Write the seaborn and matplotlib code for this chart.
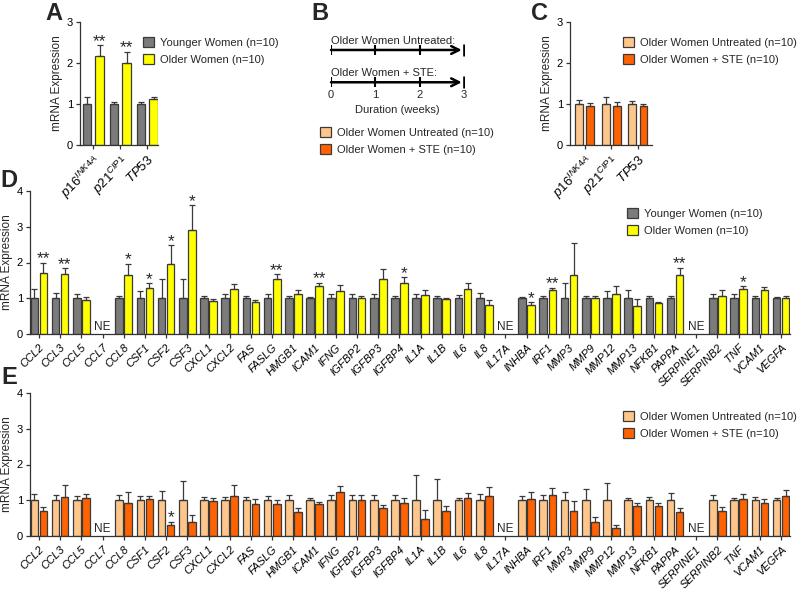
import numpy as np
import pandas as pd
import seaborn as sns
import matplotlib.pyplot as plt
from matplotlib.patches import Patch

nan = np.nan

# ---- panels A and C: senescence markers ----
sen_genes = [r'$\mathit{p16}^{\mathit{INK4A}}$', r'$\mathit{p21}^{\mathit{CIP1}}$', r'$\mathit{TP53}$']
a_young = [1.0, 1.0, 1.0]
a_young_err = [0.16, 0.06, 0.06]
a_old = [2.18, 2.01, 1.12]
a_old_err = [0.25, 0.26, 0.04]
a_sig = ['**', '**', '']

c_untr = [1.0, 1.0, 1.0]
c_untr_err = [0.10, 0.18, 0.08]
c_ste = [0.94, 0.96, 0.95]
c_ste_err = [0.08, 0.10, 0.06]
c_sig = ['', '', '']

# ---- panels D and E: SASP genes (nan = not expressed) ----
genes = ['CCL2', 'CCL3', 'CCL5', 'CCL7', 'CCL8', 'CSF1', 'CSF2', 'CSF3', 'CXCL1', 'CXCL2',
         'FAS', 'FASLG', 'HMGB1', 'ICAM1', 'IFNG', 'IGFBP2', 'IGFBP3', 'IGFBP4', 'IL1A', 'IL1B',
         'IL6', 'IL8', 'IL17A', 'INHBA', 'IRF1', 'MMP3', 'MMP9', 'MMP12', 'MMP13', 'NFKB1',
         'PAPPA', 'SERPINE1', 'SERPINB2', 'TNF', 'VCAM1', 'VEGFA']

d_young = [1, 1, 1, nan, 1, 1, 1, 1, 1, 1, 1, 1, 1, 1, 1, 1, 1, 1, 1, 1,
           1, 1, nan, 1, 1, 1, 1, 1, 1, 1, 1, nan, 1, 1, 1, 1]
d_young_err = [0.27, 0.14, 0.12, nan, 0.07, 0.20, 0.55, 0.54, 0.07, 0.11,
               0.07, 0.11, 0.05, 0.04, 0.11, 0.11, 0.12, 0.07, 0.11, 0.06,
               0.08, 0.14, nan, 0.04, 0.05, 0.44, 0.05, 0.20, 0.22, 0.05,
               0.07, nan, 0.13, 0.12, 0.06, 0.04]
d_old = [1.70, 1.68, 0.96, nan, 1.65, 1.30, 1.95, 2.91, 0.93, 1.26,
         0.89, 1.53, 1.13, 1.34, 1.20, 1.00, 1.53, 1.42, 1.08, 0.97,
         1.25, 0.81, nan, 0.82, 1.22, 1.66, 1.00, 1.13, 0.79, 0.87,
         1.66, nan, 1.07, 1.25, 1.22, 1.02]
d_old_err = [0.30, 0.16, 0.08, nan, 0.31, 0.12, 0.53, 0.70, 0.06, 0.15,
             0.07, 0.14, 0.10, 0.10, 0.18, 0.06, 0.30, 0.17, 0.15, 0.03,
             0.17, 0.14, nan, 0.07, 0.07, 0.89, 0.05, 0.21, 0.20, 0.03,
             0.19, nan, 0.15, 0.08, 0.09, 0.04]
d_sig = ['**', '**', '', '', '*', '*', '*', '*', '', '', '', '**', '', '**', '', '', '', '*',
         '', '', '', '', '', '*', '**', '', '', '', '', '', '**', '', '', '*', '', '']

e_untr = d_young
e_untr_err = [0.17, 0.14, 0.12, nan, 0.16, 0.12, 0.26, 0.54, 0.10, 0.08,
              0.10, 0.12, 0.15, 0.05, 0.14, 0.14, 0.14, 0.14, 0.71, 0.59,
              0.05, 0.18, nan, 0.12, 0.14, 0.23, 0.32, 0.49, 0.05, 0.08,
              0.21, nan, 0.15, 0.05, 0.08, 0.07]
e_ste = [0.71, 1.10, 1.07, nan, 0.91, 1.03, 0.31, 0.40, 0.98, 1.13,
         0.89, 0.89, 0.66, 0.89, 1.22, 1.00, 0.77, 0.91, 0.47, 0.70,
         1.06, 1.12, nan, 1.04, 1.15, 0.69, 0.39, 0.22, 0.84, 0.84,
         0.66, nan, 0.69, 1.03, 0.93, 1.12]
e_ste_err = [0.09, 0.34, 0.11, nan, 0.33, 0.09, 0.09, 0.19, 0.09, 0.31,
             0.14, 0.12, 0.11, 0.07, 0.17, 0.14, 0.09, 0.14, 0.27, 0.13,
             0.13, 0.26, nan, 0.18, 0.18, 0.28, 0.13, 0.08, 0.07, 0.07,
             0.11, nan, 0.11, 0.14, 0.10, 0.16]
e_sig = [''] * 6 + ['*'] + [''] * 29

age_names = ['Younger Women (n=10)', 'Older Women (n=10)']
age_colors = ['#7b7b7b', '#ffff00']
ste_names = ['Older Women Untreated (n=10)', 'Older Women + STE (n=10)']
ste_colors = ['#ffc68c', '#ff6200']
weeks = [0, 1, 2, 3]

sns.set_style('ticks')
plt.rcParams['font.family'] = ['Liberation Sans', 'DejaVu Sans']
plt.rcParams['mathtext.fontset'] = 'custom'
plt.rcParams['mathtext.rm'] = 'Liberation Sans'
plt.rcParams['mathtext.it'] = 'Liberation Sans:italic'
plt.rcParams['axes.edgecolor'] = '#333333'
plt.rcParams['xtick.color'] = '#333333'
plt.rcParams['ytick.color'] = '#333333'
plt.rcParams['xtick.labelcolor'] = 'black'
plt.rcParams['ytick.labelcolor'] = 'black'

EDGE = '#3a3a3a'


def bar_panel(ax, labels, m1, e1, m2, e2, sig, names, colors, width, gap, ymax,
              italic=True, xfs=8):
    n = len(labels)
    df = pd.DataFrame({'gene': list(labels) * 2,
                       'group': [names[0]] * n + [names[1]] * n,
                       'value': list(m1) + list(m2)})
    sns.barplot(data=df, x='gene', y='value', hue='group', order=list(labels), hue_order=names,
                palette=colors, width=width, gap=gap, errorbar=None, saturation=1,
                edgecolor=EDGE, linewidth=0.9, legend=False, ax=ax)
    ax.set_facecolor('none')
    pos = np.arange(n)
    for j, (m, e) in enumerate([(m1, e1), (m2, e2)]):
        x = pos + (j - 0.5) * width / 2
        m = np.asarray(m, float)
        e = np.asarray(e, float)
        ok = ~np.isnan(m)
        ax.errorbar(x[ok], m[ok], yerr=[np.zeros(ok.sum()), e[ok]], fmt='none',
                    ecolor=EDGE, elinewidth=0.9, capsize=2.4, capthick=0.9)
        if j == 1:
            for xi, mi, ei, s in zip(x, m, e, sig):
                if s:
                    ax.annotate(s, (xi, mi + ei), xytext=(0, -0.5), textcoords='offset points',
                                ha='center', va='baseline', fontsize=12.5)
    for i in range(n):
        if np.isnan(m1[i]):
            ax.text(i, 0.04, 'NE', ha='center', va='bottom', fontsize=8.5)
    ax.set_ylim(0, ymax)
    ax.set_yticks(range(ymax + 1))
    ax.set_xlim(-0.42, n - 0.58)
    ax.set_xlabel('')
    ax.set_ylabel('mRNA Expression', fontsize=8.5, labelpad=3)
    ax.tick_params(axis='both', length=3, width=0.9, labelsize=8, pad=2)
    ax.tick_params(axis='x', labelsize=xfs, pad=3)
    for lbl in ax.get_xticklabels():
        lbl.set_rotation(45)
        lbl.set_ha('right')
        lbl.set_va('top')
        lbl.set_rotation_mode('anchor')
        if italic:
            lbl.set_fontstyle('italic')
    sns.despine(ax=ax)
    for sp in ax.spines.values():
        sp.set_linewidth(0.9)


def add_legend(fig, names, colors, x, y):
    handles = [Patch(facecolor=c, edgecolor=EDGE, linewidth=0.9, label=nm) for nm, c in zip(names, colors)]
    fig.legend(handles=handles, loc='upper left', bbox_to_anchor=(x / 800, 1 - y / 590),
               frameon=False, fontsize=8, handlelength=1.0, handleheight=1.0,
               handletextpad=0.5, labelspacing=0.55, borderpad=0, borderaxespad=0)


fig = plt.figure(figsize=(8, 5.9), dpi=100)

axD = fig.add_axes([30 / 800, 1 - 334 / 590, 760 / 800, 143 / 590])
bar_panel(axD, genes, d_young, d_young_err, d_old, d_old_err, d_sig,
          age_names, age_colors, 0.85, 0.15, 4)
add_legend(fig, age_names, age_colors, 627, 208)

axE = fig.add_axes([30 / 800, 1 - 536 / 590, 760 / 800, 143 / 590])
bar_panel(axE, genes, e_untr, e_untr_err, e_ste, e_ste_err, e_sig,
          ste_names, ste_colors, 0.85, 0.15, 4)
add_legend(fig, ste_names, ste_colors, 623, 411)

axA = fig.add_axes([80 / 800, 1 - 145 / 590, 78 / 800, 123 / 590])
bar_panel(axA, sen_genes, a_young, a_young_err, a_old, a_old_err, a_sig,
          age_names, age_colors, 0.94, 0.32, 3, italic=False, xfs=9.5)
axA.set_xlim(-0.5, 2.4)
add_legend(fig, age_names, age_colors, 143, 37)

axC = fig.add_axes([570 / 800, 1 - 145 / 590, 82 / 800, 123 / 590])
bar_panel(axC, sen_genes, c_untr, c_untr_err, c_ste, c_ste_err, c_sig,
          ste_names, ste_colors, 0.84, 0.29, 3, italic=False, xfs=9.5)
axC.set_xlim(-0.55, 2.53)
add_legend(fig, ste_names, ste_colors, 623, 37)

# panel B: treatment timeline
axB = fig.add_axes([331 / 800, 1 - 115 / 590, 133 / 800, 85 / 590])
axB.set_xlim(weeks[0], weeks[-1])
axB.set_ylim(0, 1)
axB.axis('off')
for yy, title in [(0.765, 'Older Women Untreated:'), (0.385, 'Older Women + STE:')]:
    axB.annotate('', xy=(weeks[-1] - 0.05, yy), xytext=(weeks[0], yy),
                 arrowprops=dict(arrowstyle='->', color='black', lw=1.8, mutation_scale=14,
                                 shrinkA=0, shrinkB=0))
    axB.plot(weeks[:-1], [yy] * (len(weeks) - 1), ls='none', marker='|', ms=7, mew=1.5, color='black')
    axB.plot([weeks[-1]], [yy], ls='none', marker='|', ms=8, mew=1.9, color='black')
    axB.text(weeks[0], yy + 0.05, title, fontsize=8, ha='left', va='bottom')
for w in weeks:
    axB.text(w, 0.235, str(w), fontsize=8, ha='center', va='center')
axB.text(np.mean(weeks), 0.06, 'Duration (weeks)', fontsize=8, ha='center', va='center')
add_legend(fig, ste_names, ste_colors, 320, 127)

for letter, x, y in [('A', 54, 14), ('B', 320, 13), ('C', 539, 13), ('D', 9, 180), ('E', 9, 377)]:
    fig.text(x / 800, 1 - y / 590, letter, fontsize=17, fontweight='bold', ha='center', va='center')

fig.savefig('out.png', dpi=100)
